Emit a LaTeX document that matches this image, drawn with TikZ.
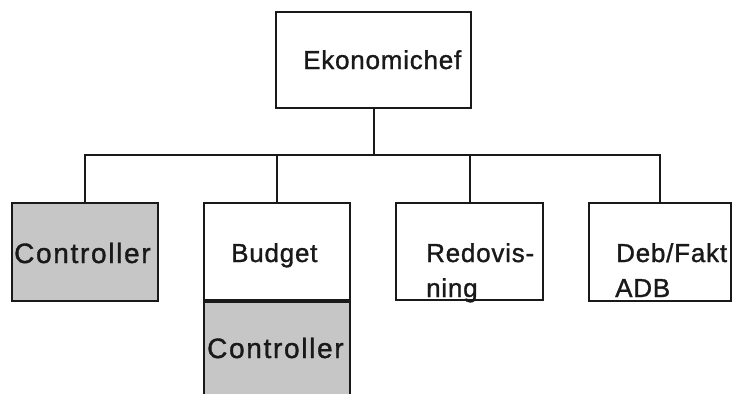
\documentclass[tikz,border=0pt]{standalone}
\usepackage{fontspec}
\setmainfont{Liberation Sans}
\newfontfamily\orgfont[LetterSpace=3,FakeBold=1.2]{Liberation Sans}
\newfontfamily\ctrlfont[LetterSpace=6,FakeBold=1.2]{Liberation Sans}
\definecolor{shade}{RGB}{198,198,198}
\definecolor{ink}{RGB}{25,25,25}
\begin{document}
\begin{tikzpicture}[x=1pt,y=-1pt,
  box/.style={draw=ink,line width=2pt,rectangle,inner sep=0pt},
  shaded/.style={box,fill=shade},
  label/.style={inner sep=0pt,anchor=base west,text=ink,font=\orgfont\fontsize{26}{30}\selectfont},
  ctrllabel/.style={label,font=\ctrlfont\fontsize{28}{32}\selectfont},
  link/.style={draw=ink,line width=2pt}]
  \useasboundingbox (0,0) rectangle (732,394);
  \clip (0,0) rectangle (732,394);

  % labels first, so the box outlines cross descenders
  \node[label] (tchef) at (303,69) {Ekonomichef};
  \node[label] (tbudget) at (231,262) {Budget};
  \node[label] (tredovA) at (426,262) {Redovis-};
  \node[label] (tredovB) at (426,297) {ning};
  \node[label] (tdebA) at (616,262) {Deb/Fakt};
  \node[label] (tdebB) at (615,297) {ADB};

  % boxes (outlines only for the plain ones)
  \node[box,minimum width=195pt,minimum height=96pt] (chef) at (373.5,60) {};
  \node[shaded,minimum width=146pt,minimum height=98pt] (ctrl) at (85,252) {};
  \node[box,minimum width=146pt,minimum height=97pt] (budget) at (277,251.5) {};
  \node[shaded,minimum width=146pt,minimum height=110pt,anchor=north] (budgetctrl) at (budget.south) {};
  \node[box,minimum width=147pt,minimum height=97pt] (redov) at (469.5,251.5) {};
  \node[box,minimum width=142pt,minimum height=98pt] (deb) at (660,252) {};

  % labels on shaded boxes
  \node[ctrllabel] (tctrl) at (14,263) {Controller};
  \node[ctrllabel] (tbudgetctrl) at (207,358) {Controller};

  % connectors
  \coordinate (bus) at (373.5,155);
  \draw[link] (chef.south) -- (bus);
  \draw[link] (ctrl.north) |- (bus) -| (deb.north);
  \draw[link] (budget.north) -- (budget.north |- bus);
  \draw[link] (redov.north) -- (redov.north |- bus);
\end{tikzpicture}
\end{document}
